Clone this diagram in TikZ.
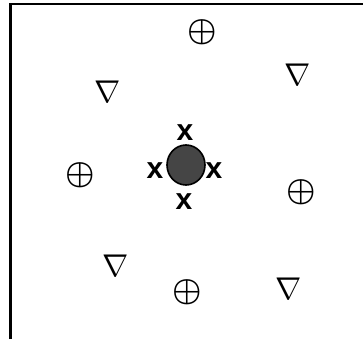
\documentclass[tikz,border=0pt]{standalone}
\usepackage{amsmath}
\usepackage{fontspec}
\usetikzlibrary{shapes.geometric}
\newfontfamily\xfont{Liberation Sans}
\definecolor{bodygray}{HTML}{454545}
\tikzset{
  plussym/.style={inner sep=0pt},
  nablasym/.style={inner sep=0pt},
  xmark/.style={inner sep=0pt, font=\xfont\bfseries\fontsize{30}{30}\selectfont},
  frameline/.style={line width=2.6pt}
}
\newcommand{\opl}{\scalebox{3.3}{$\boldsymbol{\oplus}$}}
\newcommand{\nab}{\scalebox{3.15}{$\nabla$}}
\begin{document}
\begin{tikzpicture}[x=1pt,y=-1pt]
\useasboundingbox (0,0) rectangle (363,339);
\coordinate (fb) at (10.5,339);
\coordinate (fc) at (10.5,4);
\coordinate (fr) at (363,4);
\draw[frameline] (fb) -- (fc) -- (fr);
% oplus symbols
\node[plussym] (p1) at (202,32) {\opl};
\node[plussym] (p2) at (80,175) {\opl};
\node[plussym] (p3) at (301,192) {\opl};
\node[plussym] (p4) at (187,292) {\opl};
% nabla symbols
\node[nablasym] (n1) at (298,75) {\nab};
\node[nablasym] (n2) at (108,92) {\nab};
\node[nablasym] (n3) at (116,266) {\nab};
\node[nablasym] (n4) at (289,289) {\nab};
% central body
\node[ellipse, draw, line width=1.6pt, fill=bodygray, minimum width=38pt, minimum height=40pt, inner sep=0pt] (c) at (186,165) {};
\node[xmark] (xt) at (185,133) {x};
\node[xmark] (xl) at (155,171) {x};
\node[xmark] (xr) at (214,171) {x};
\node[xmark] (xb) at (184,202) {x};
\end{tikzpicture}
\end{document}
